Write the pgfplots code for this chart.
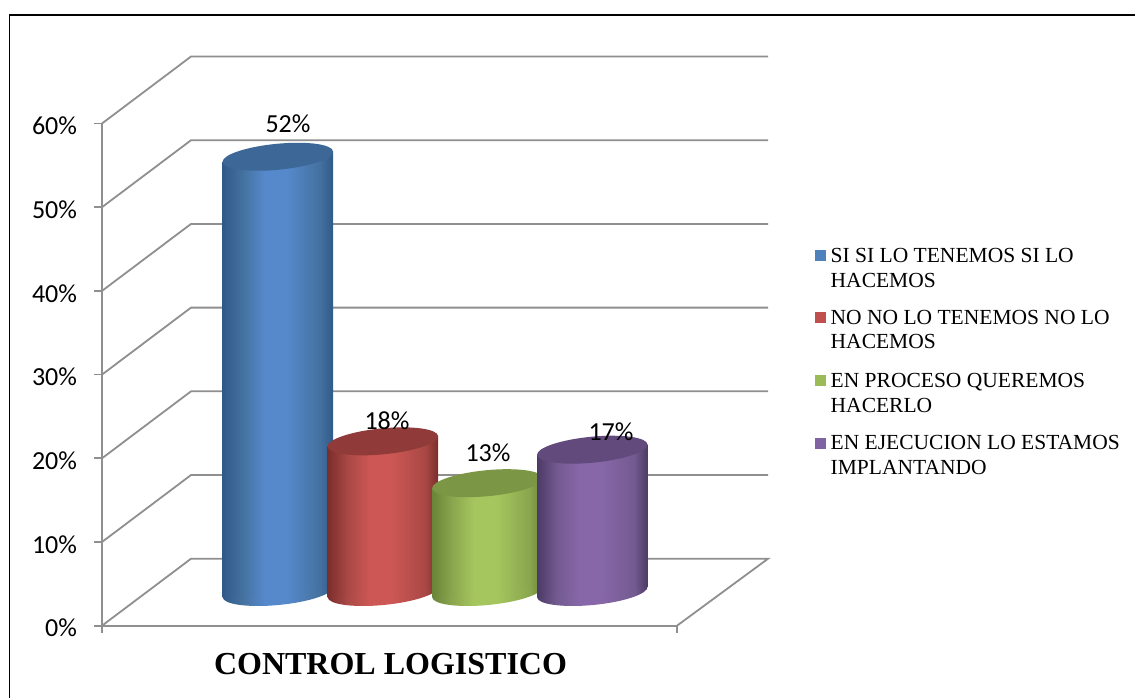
\documentclass[border=0pt]{standalone}
\usepackage{pgfplots}
\pgfplotsset{compat=1.18}
\usepackage{fontspec}
\usetikzlibrary{shapes.geometric}
\setmainfont{Liberation Serif}
\newfontfamily\calibrilike{Carlito}

% Cylinder side shadings: dark rims, bright band left of the centre
\newcommand\sideshading[4]{%
  \definecolor{#1d}{HTML}{#2}\definecolor{#1m}{HTML}{#3}\definecolor{#1b}{HTML}{#4}%
  \pgfdeclarehorizontalshading{#1}{100bp}{%
    color(0bp)=(#1d); color(25bp)=(#1d); color(34bp)=(#1m); color(44bp)=(#1b);
    color(54bp)=(#1b); color(69bp)=(#1m); color(75bp)=(#1d); color(100bp)=(#1d)}%
}
\sideshading{cylblue}{2F5A8A}{44719F}{5689CB}
\sideshading{cylred}{7A2E2C}{A94845}{CC5754}
\sideshading{cylgreen}{6A8438}{8AA64E}{A5C65E}
\sideshading{cylpurple}{4C3A66}{735A90}{8767A8}
\definecolor{topblue}{HTML}{3D6796}
\definecolor{topred}{HTML}{903B39}
\definecolor{topgreen}{HTML}{7B9644}
\definecolor{toppurple}{HTML}{624A7C}
\definecolor{wall}{HTML}{8F8F8F}
\definecolor{keyblue}{HTML}{4F81BD}
\definecolor{keyred}{HTML}{C0504D}
\definecolor{keygreen}{HTML}{9BBB59}
\definecolor{keypurple}{HTML}{8064A2}

% #1 centre x, #2 value, #3 side shading, #4 lid colour
\newcommand\cylinder[4]{%
  \pgfmathsetmacro\xl{#1-55.2}\pgfmathsetmacro\xr{#1+55.2}%
  \pgfmathsetmacro\yl{#2-0.6}\pgfmathsetmacro\yr{#2+0.6}%
  \node[ellipse,inner sep=0pt,draw=none,shading=#3,minimum width=111pt,minimum height=26pt,rotate=5.5]
    at (axis cs:#1,0) {};
  \addplot[draw=none,shading=#3,no marks] coordinates {(\xl,-0.6) (\xl,\yl) (\xr,\yr) (\xr,0.6)} --cycle;
  \node[ellipse,inner sep=0pt,draw=none,fill=#4,minimum width=111pt,minimum height=26pt,rotate=5.5]
    at (axis cs:#1,#2) {};
}
\tikzset{wallline/.style={wall,line width=1.8pt,no marks},
  valuelabel/.style={font=\calibrilike\fontsize{26}{26}\selectfont}}

\begin{document}
\begin{tikzpicture}[x=1pt,y=1pt]
\useasboundingbox (0,0) rectangle (1135,698);
\fill[white] (0,0) rectangle (1135,698);
\draw[black,line width=1.6pt] (9.5,0) -- (9.5,683) -- (1135,683);

% Percentage scale with back wall and floor
\begin{axis}[
  at={(102pt,72.3pt)},anchor=origin,
  scale only axis,width=575pt,height=502.2pt,
  xmin=102,xmax=677,ymin=0,ymax=60,clip=false,
  axis x line=bottom,axis y line=left,
  axis line style={-,wall,line width=1.8pt},
  tick style={wall,line width=1.8pt},
  tick align=outside,major tick length=7.5pt,
  xtick={102,677},xticklabels={,},
  ytick={0,10,20,30,40,50,60},
  yticklabel={\pgfmathprintnumber{\tick}\%},
  /pgf/number format/assume math mode=true,
  yticklabel style={font=\calibrilike\fontsize{26}{26}\selectfont,black,xshift=-14pt,yshift=-2.5pt},
]
\addplot[wallline] coordinates {(102,0) (191,8) (768,8) (677,0)};
\addplot[wallline] coordinates {(102,10) (191,18) (768,18)};
\addplot[wallline] coordinates {(102,20) (191,28) (768,28)};
\addplot[wallline] coordinates {(102,30) (191,38) (768,38)};
\addplot[wallline] coordinates {(102,40) (191,48) (768,48)};
\addplot[wallline] coordinates {(102,50) (191,58) (768,58)};
\addplot[wallline] coordinates {(102,60) (191,68) (768,68)};
\end{axis}

% Cylinders, rising from the floor with the same vertical scale
\begin{axis}[
  at={(102pt,106pt)},anchor=origin,
  scale only axis,width=575pt,height=502.2pt,
  xmin=102,xmax=677,ymin=0,ymax=60,clip=false,hide axis,
]
\cylinder{277.85}{52}{cylblue}{topblue}
\cylinder{382.85}{18}{cylred}{topred}
\cylinder{487.4}{13}{cylgreen}{topgreen}
\cylinder{592.3}{17}{cylpurple}{toppurple}
\node[valuelabel] at (axis cs:288,52) [yshift=33pt] {52\%};
\node[valuelabel] at (axis cs:387,18) [yshift=21pt] {18\%};
\node[valuelabel] at (axis cs:488,13) [yshift=30pt] {13\%};
\node[valuelabel] at (axis cs:611,17) [yshift=18pt] {17\%};
\end{axis}

% Category title
\node[font=\bfseries\fontsize{32}{32}\selectfont,anchor=base] at (390.5,23.5) {CONTROL LOGISTICO};

% Key
\fill[keyblue] (815,437) rectangle +(11,11);
\fill[keyred] (815,375) rectangle +(11,11);
\fill[keygreen] (815,312) rectangle +(11,11);
\fill[keypurple] (815,249) rectangle +(11,11);
\begin{scope}[every node/.style={anchor=base west,inner sep=0pt,font=\fontsize{21.5}{21.5}\selectfont}]
\node at (830.5,435.5) {SI SI LO TENEMOS SI LO};
\node at (830.5,410.5) {HACEMOS};
\node at (830.5,373.5) {NO NO LO TENEMOS NO LO};
\node at (830.5,349.5) {HACEMOS};
\node at (830.5,310.5) {EN PROCESO QUEREMOS};
\node at (830.5,285.5) {HACERLO};
\node at (830.5,248.5) {EN EJECUCION LO ESTAMOS};
\node at (830.5,223.5) {IMPLANTANDO};
\end{scope}
\end{tikzpicture}
\end{document}
